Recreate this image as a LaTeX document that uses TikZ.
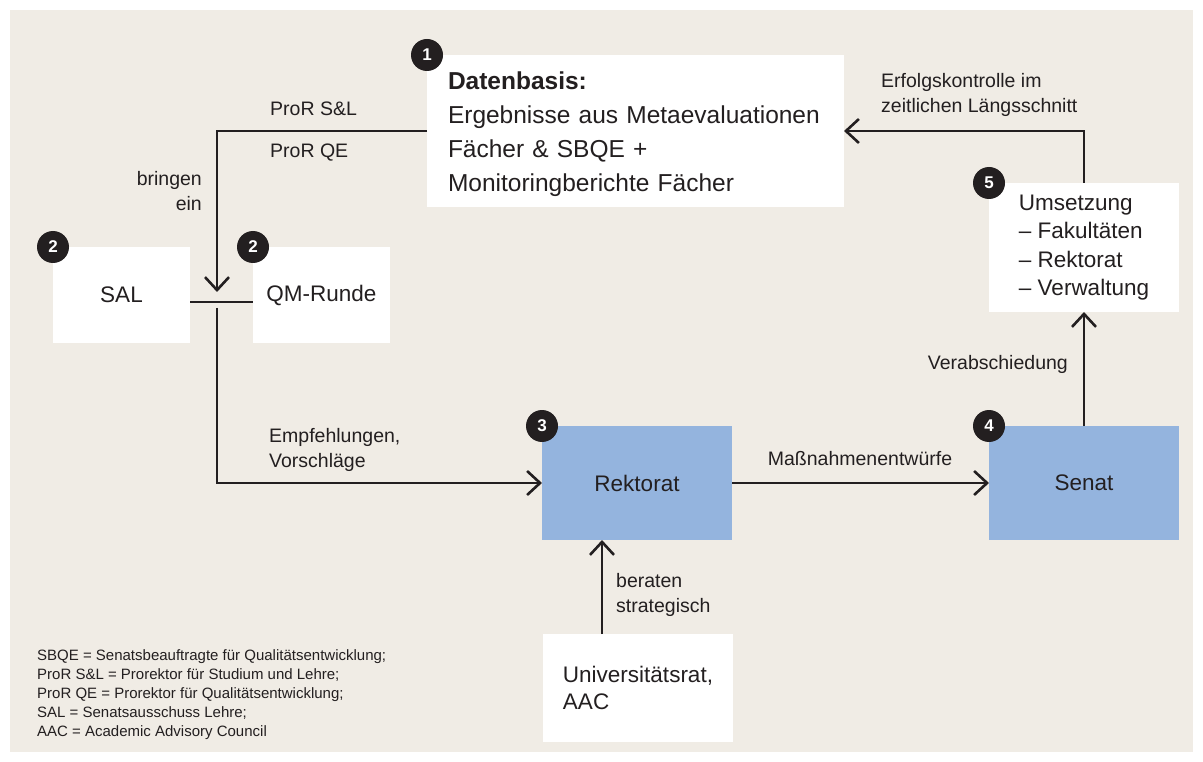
\documentclass[tikz,border=0pt]{standalone}
\usepackage{fontspec}
\setmainfont{Liberation Sans}
\usetikzlibrary{arrows.meta}

\definecolor{paper}{RGB}{240,236,229}
\definecolor{ink}{RGB}{35,31,32}
\definecolor{boardblue}{RGB}{148,180,222}

\tikzset{
  box/.style={fill=white, draw=none, inner sep=0pt, outer sep=0pt,
    anchor=north west, text=ink, align=left,
    font=\fontsize{22.5}{28.5}\selectfont},
  bluebox/.style={box, fill=boardblue},
  badge/.style={circle, fill=ink, text=white, inner sep=0pt,
    minimum size=32pt, font=\fontsize{17}{17}\selectfont\bfseries},
  conn/.style={draw=ink, line width=2.8pt},
  arr/.style={conn, -{Straight Barb[length=13pt,width=24pt,line width=2.6pt]}},
  lbl/.style={text=ink, inner sep=0pt, font=\fontsize{19.5}{25}\selectfont},
  note/.style={text=ink, inner sep=0pt, align=left, anchor=base west,
    font=\fontsize{15}{19}\selectfont},
}

\begin{document}
\begin{tikzpicture}[x=1pt,y=-1pt]
  \useasboundingbox (0,0) rectangle (1203,762);
  \fill[paper] (10,10) rectangle (1193,752);

  % boxes
  \node[box, inner xsep=21pt, text width=375pt, minimum height=152pt,
        font=\fontsize{24.5}{34}\selectfont] (data) at (427,55)
    {\rule{0pt}{24pt}\textbf{Datenbasis:}\\Ergebnisse aus Metaevaluationen\\F\"acher \& SBQE +\\Monitoringberichte F\"acher};
  \node[box, minimum width=137pt, minimum height=96pt] (sal) at (53,247) {SAL};
  \node[box, minimum width=137pt, minimum height=96pt] (qm) at (253,247) {QM-Runde};
  \node[bluebox, minimum width=190pt, minimum height=114pt] (rek) at (542,426) {Rektorat};
  \node[bluebox, minimum width=190pt, minimum height=114pt] (sen) at (989,426) {Senat};
  \node[box, minimum width=190pt, minimum height=129pt] (ums) at (989,183)
    {Umsetzung\\\textendash{} Fakult\"aten\\\textendash{} Rektorat\\\textendash{} Verwaltung};
  \node[box, minimum width=190pt, minimum height=108pt,
        font=\fontsize{22.5}{27}\selectfont] (univ) at (543,634)
    {Universit\"atsrat,\\AAC};

  % numbered badges
  \node[badge] (b1) at (data.north west) {1};
  \node[badge] (b2a) at (sal.north west) {2};
  \node[badge] (b2b) at (qm.north west) {2};
  \node[badge] (b3) at (rek.north west) {3};
  \node[badge] (b4) at (sen.north west) {4};
  \node[badge] (b5) at (ums.north west) {5};

  % connectors
  \coordinate (jin) at (217,292);
  \coordinate (jout) at (217,308);
  \draw[arr] (data.west) -| (jin);
  \draw[conn] ([yshift=-7pt]sal.east) -- ([yshift=-7pt]qm.west);
  \draw[arr] (jout) |- (rek.west);
  \draw[arr] (rek) -- (sen);
  \draw[arr] (sen) -- (ums);
  \draw[arr] (ums.north) |- (data.east);
  \draw[arr] ([xshift=59pt]univ.north west) -- ([xshift=60pt]rek.south west);

  % connector labels (multi-line ones are placed by their last baseline)
  \node[lbl, anchor=base west] (l1) at (270,116) {ProR S\&L};
  \node[lbl, anchor=base west] (l2) at (270,158) {ProR QE};
  \node[lbl, anchor=base east, align=right] (l3) at (202,211) {bringen\\ein};
  \node[lbl, anchor=base west, align=left] (l4) at (269,467) {Empfehlungen,\\Vorschl\"age};
  \node[lbl, anchor=base] (l5) at (860,465) {Ma\ss nahmenentw\"urfe};
  \node[lbl, anchor=base east] (l6) at (1068,370) {Verabschiedung};
  \node[lbl, anchor=base west, align=left] (l7) at (881,113) {Erfolgskontrolle im\\zeitlichen L\"angsschnitt};
  \node[lbl, anchor=base west, align=left] (l8) at (616,612) {beraten\\strategisch};

  % abbreviations
  \node[note] (abbr) at (37,736)
    {SBQE = Senatsbeauftragte f\"ur Qualit\"atsentwicklung;\\
     ProR S\&L = Prorektor f\"ur Studium und Lehre;\\
     ProR QE = Prorektor f\"ur Qualit\"atsentwicklung;\\
     SAL = Senatsausschuss Lehre;\\
     AAC = Academic Advisory Council};
\end{tikzpicture}
\end{document}
